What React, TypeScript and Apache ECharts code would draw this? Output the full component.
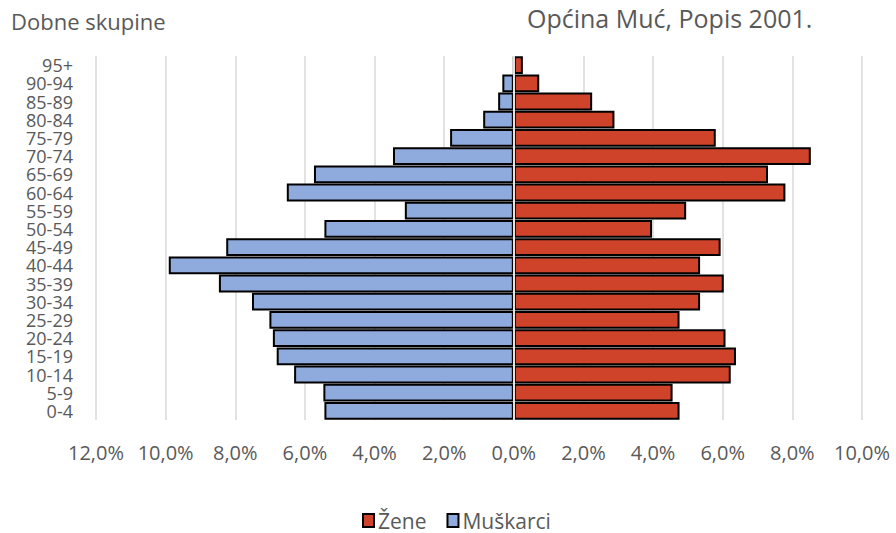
import React, { useEffect, useRef } from "react";
import * as echarts from "echarts";

const ageGroups = ["0-4", "5-9", "10-14", "15-19", "20-24", "25-29", "30-34", "35-39", "40-44", "45-49", "50-54", "55-59", "60-64", "65-69", "70-74", "75-79", "80-84", "85-89", "90-94", "95+"];
const zene = [4.76, 4.56, 6.23, 6.38, 6.08, 4.76, 5.35, 6.03, 5.35, 5.94, 3.97, 4.95, 7.80, 7.30, 8.53, 5.80, 2.89, 2.25, 0.73, 0.26];
const muskarci = [5.44, 5.47, 6.31, 6.81, 6.92, 7.02, 7.52, 8.47, 9.91, 8.26, 5.44, 3.13, 6.52, 5.74, 3.47, 1.83, 0.88, 0.45, 0.33, 0];
const xMin = -12;
const xMax = 10;
const xStep = 2;
const titleText = "Općina Muć, Popis 2001.";
const yAxisTitle = "Dobne skupine";

const FONT = "'Open Sans', 'Noto Sans', sans-serif";
const GRAY = "#595959";

export default function App() {
  const ref = useRef<HTMLDivElement>(null);
  useEffect(() => {
    if (!ref.current) return;
    const chart = echarts.init(ref.current, undefined, { renderer: "svg" });
    chart.setOption({
      animation: false,
      backgroundColor: "#ffffff",
      textStyle: { fontFamily: FONT },
      graphic: [
        {
          type: "text",
          left: 527,
          top: 5,
          style: { text: titleText, fontSize: 25, fontFamily: FONT, fill: GRAY },
        },
        {
          type: "text",
          left: 11,
          top: 10,
          style: { text: yAxisTitle, fontSize: 22, fontFamily: FONT, fill: GRAY },
        },
      ],
      legend: {
        data: ["Žene", "Muškarci"],
        bottom: -3,
        left: 357,
        itemWidth: 11,
        itemHeight: 13,
        itemGap: 20,
        icon: "rect",
        itemStyle: { borderColor: "#000", borderWidth: 2 },
        textStyle: { fontSize: 21, color: GRAY, fontFamily: FONT, padding: [0, 0, 0, -1] },
      },
      grid: { left: 96, right: 34, top: 56, bottom: 113, containLabel: false },
      xAxis: {
        type: "value",
        min: xMin,
        max: xMax,
        interval: xStep,
        axisLine: { show: false },
        axisTick: { show: false },
        splitLine: { show: true, lineStyle: { color: "#d9d9d9", width: 1.5 } },
        axisLabel: {
          margin: 22,
          fontSize: 20,
          color: GRAY,
          fontFamily: FONT,
          formatter: (v: number) => Math.abs(v).toFixed(1).replace(".", ",") + "%",
        },
      },
      yAxis: {
        type: "category",
        data: ageGroups,
        axisLine: { show: false },
        axisTick: { show: false },
        axisLabel: { interval: 0, margin: 23, fontSize: 18, color: GRAY, fontFamily: FONT, lineHeight: 17 },
      },
      series: [
        {
          name: "Muškarci",
          type: "bar",
          stack: "pop",
          barCategoryGap: "2%",
          data: muskarci.map((v) => -v),
          itemStyle: { color: "#8FAADC", borderColor: "#000", borderWidth: 2 },
        },
        {
          name: "Žene",
          type: "bar",
          stack: "pop",
          barCategoryGap: "2%",
          data: zene,
          itemStyle: { color: "#CF432B", borderColor: "#000", borderWidth: 2 },
          markLine: {
            silent: true,
            symbol: "none",
            label: { show: false },
            lineStyle: { color: "#e3e3e3", width: 2, type: "solid" },
            z: 10,
            data: [{ xAxis: 0 }],
          },
        },
      ],
    });
    return () => chart.dispose();
  }, []);
  return <div ref={ref} style={{ position: "absolute", left: 0, top: 0, width: 896, height: 533 }} />;
}
